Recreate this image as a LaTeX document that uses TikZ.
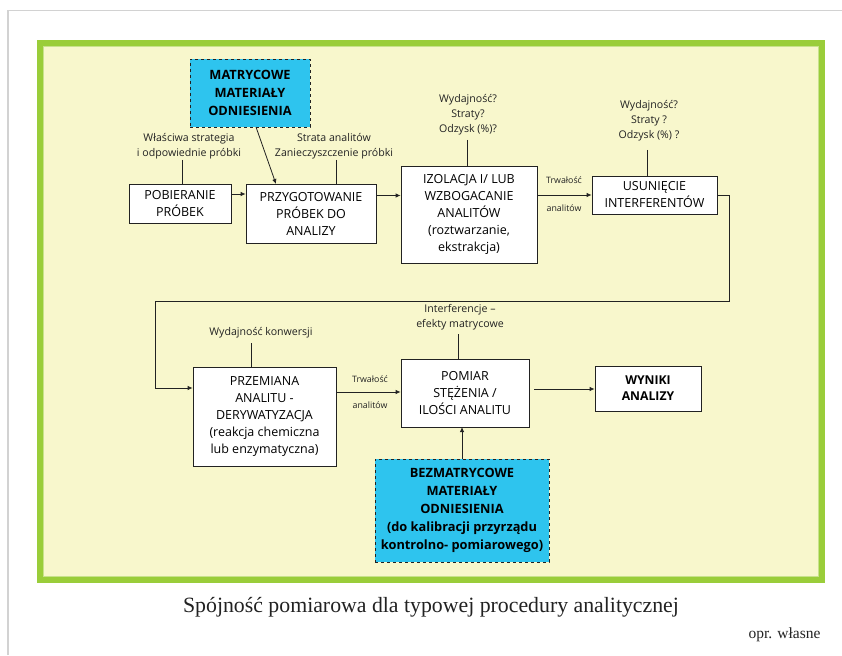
\documentclass[tikz,border=0pt]{standalone}
\usepackage{fontspec}
\setmainfont{Liberation Serif}
\newfontfamily\diag{Open Sans}
\usetikzlibrary{arrows.meta}
\definecolor{framegreen}{HTML}{9ACD3A}
\definecolor{rimgreen}{HTML}{C8E28C}
\definecolor{panel}{HTML}{F8F7CC}
\definecolor{refcyan}{HTML}{2EC4EE}
\definecolor{pagegray}{HTML}{D2D2D2}
\definecolor{ink}{HTML}{222222}
\tikzset{
  procbox/.style={draw=ink, line width=0.8pt, fill=white, align=center, inner sep=2pt,
    font=\diag\fontsize{12.5}{17}\selectfont},
  refbox/.style={draw=ink, dashed, line width=0.8pt, fill=refcyan, align=center, inner sep=2pt,
    font=\diag\bfseries\fontsize{12.8}{18}\selectfont},
  resbox/.style={draw=ink, line width=0.8pt, fill=white, align=center, inner sep=2pt,
    font=\diag\bfseries\fontsize{12.2}{16}\selectfont},
  note/.style={align=center, inner sep=0pt, text=ink, font=\diag\fontsize{10.6}{15}\selectfont},
  tiny/.style={inner sep=0pt, text=ink, font=\diag\fontsize{8.8}{10}\selectfont},
  arr/.style={draw=ink, line width=0.8pt, -{Latex[length=5pt,width=4.5pt]}},
  tie/.style={draw=ink, line width=0.8pt}
}
\begin{document}
\begin{tikzpicture}[x=1pt,y=-1pt]
\useasboundingbox (0,0) rectangle (842,655);
\fill[white] (0,0) rectangle (842,655);
% page edge
\draw[pagegray, line width=1.5pt] (8,655) -- (8,10.5) -- (842,10.5);
% frame
\draw[framegreen, line width=6pt, fill=panel] (40,43) rectangle (822,580);
\draw[rimgreen, line width=1pt] (43.5,46.5) rectangle (818.5,576.5);

% boxes
\node[refbox, minimum width=120pt, minimum height=68pt] (mat) at (250,93)
  {MATRYCOWE\\MATERIAŁY\\ODNIESIENIA};
\node[procbox, minimum width=102pt, minimum height=39pt] (pob) at (180,203.5)
  {POBIERANIE\\PRÓBEK};
\node[procbox, minimum width=130pt, minimum height=59pt] (prz) at (311,213.5)
  {PRZYGOTOWANIE\\PRÓBEK DO\\ANALIZY};
\node[procbox, minimum width=136pt, minimum height=97pt] (izo) at (469,214.5)
  {IZOLACJA I/ LUB\\WZBOGACANIE\\ANALITÓW\\(roztwarzanie,\\ekstrakcja)};
\node[procbox, minimum width=125pt, minimum height=38pt] (usu) at (654.5,195)
  {USUNIĘCIE\\INTERFERENTÓW};
\node[procbox, minimum width=143pt, minimum height=99pt] (pre) at (264.5,416.5)
  {PRZEMIANA\\ANALITU -\\DERYWATYZACJA\\(reakcja chemiczna\\lub enzymatyczna)};
\node[procbox, minimum width=128pt, minimum height=68pt] (pom) at (465,393)
  {POMIAR\\STĘŻENIA /\\ILOŚCI ANALITU};
\node[resbox, minimum width=106pt, minimum height=45pt] (wyn) at (648,388.5)
  {WYNIKI\\ANALIZY};
\node[refbox, minimum width=174pt, minimum height=103pt] (bez) at (462,510.5)
  {BEZMATRYCOWE\\MATERIAŁY\\ODNIESIENIA\\(do kalibracji przyrządu\\kontrolno- pomiarowego)};

% notes
\node[note] (n1) at (189,146.5) {Właściwa strategia\\i odpowiednie próbki};
\node[note] (n2) at (334,146.5) {Strata analitów\\Zanieczyszczenie próbki};
\node[note] (n3) at (468,115) {Wydajność?\\Straty?\\Odzysk (\%)?};
\node[note] (n4) at (649,121) {Wydajność?\\Straty ?\\Odzysk (\%) ?};
\node[note] (n5) at (261,333) {Wydajność konwersji};
\node[note] (n6) at (460,317) {Interferencje –\\efekty matrycowe};
\node[tiny] (t1) at (564,180) {Trwałość};
\node[tiny] (a1) at (564,208) {analitów};
\node[tiny] (t2) at (370,379) {Trwałość};
\node[tiny] (a2) at (370,405) {analitów};

% helper coordinates
\coordinate (h1) at (182,160);
\coordinate (h2) at (336,160);
\coordinate (h3) at (467,140);
\coordinate (h4) at (647,150);
\coordinate (h5) at (251,343);
\coordinate (h6) at (458,334);
\coordinate (r1) at (729,195);
\coordinate (r2) at (729,301);
\coordinate (r3) at (155,301);
\coordinate (r4) at (155,388);
\coordinate (m1) at (256,127);
\coordinate (m2) at (276,184);
\coordinate (ya) at (0,194);
\coordinate (yb) at (0,195.5);
\coordinate (yc) at (0,392);
\coordinate (w0) at (534,389);
\coordinate (bz) at (462,459);
\coordinate (pz) at (462,427);

% tie lines
\draw[tie] (h1) -- (h1 |- pob.north);
\draw[tie] (h2) -- (h2 |- prz.north);
\draw[tie] (h3) -- (h3 |- izo.north);
\draw[tie] (h4) -- (h4 |- usu.north);
\draw[tie] (h5) -- (h5 |- pre.north);
\draw[tie] (h6) -- (h6 |- pom.north);

% arrows
\draw[arr] (m1) -- (m2);
\draw[arr] (pob.east |- ya) -- (prz.west |- ya);
\draw[arr] (prz.east |- yb) -- (izo.west |- yb);
\draw[arr] (izo.east |- usu.west) -- (usu.west);
\draw[arr] (usu.east) -- (r1) -- (r2) -- (r3) -- (r4) -- (pre.west |- r4);
\draw[arr] (pre.east |- yc) -- (pom.west |- yc);
\draw[arr] (w0) -- (wyn.west |- w0);
\draw[arr] (bz) -- (pz);

% caption
\node[font=\fontsize{21.8}{26}\selectfont, text=ink] (cap) at (431,607) {Spójność pomiarowa dla typowej procedury analitycznej};
\node[font=\fontsize{15.5}{18}\selectfont, text=ink, anchor=east] (src) at (824,635) {opr. własne};
\end{tikzpicture}
\end{document}
